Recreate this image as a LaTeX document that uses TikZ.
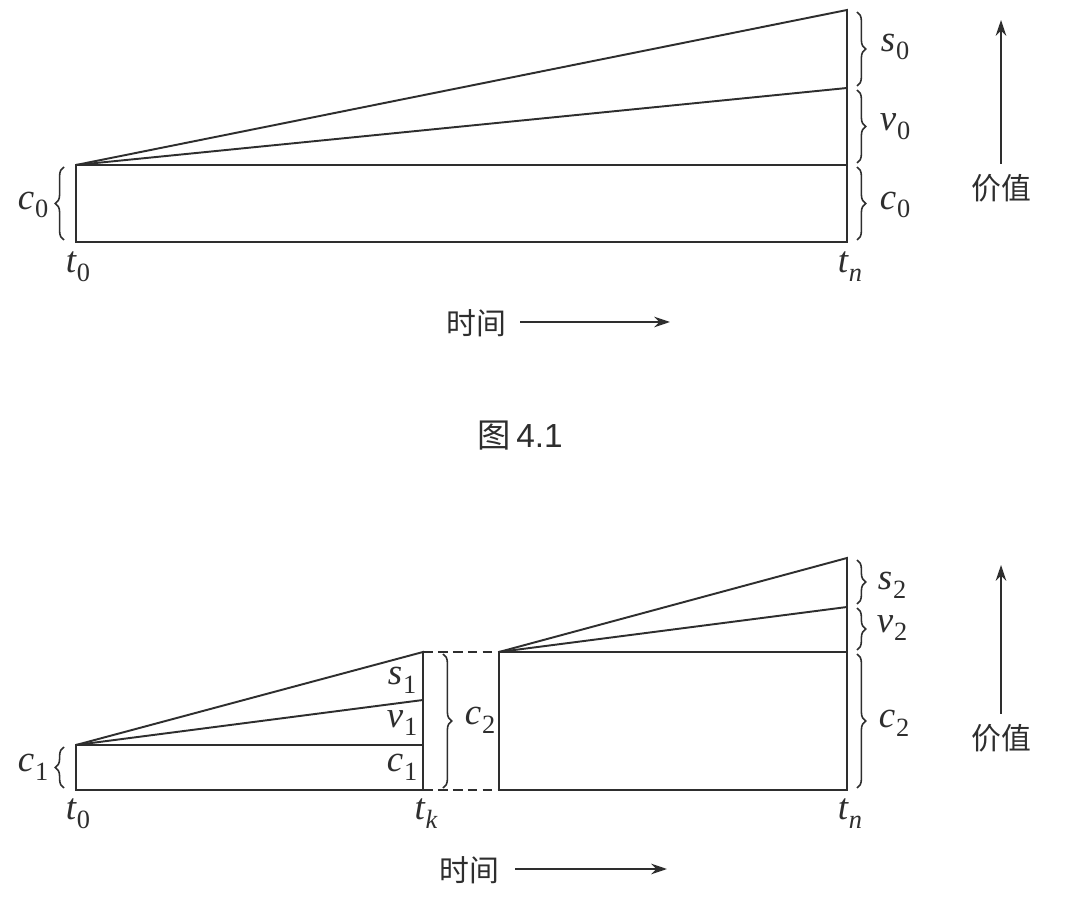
\documentclass[tikz,border=0pt]{standalone}
\usepackage{fontspec}
\setmainfont{Liberation Serif}
\newfontfamily\cjk{Noto Sans CJK SC}
\usetikzlibrary{arrows.meta,decorations.pathreplacing}
\definecolor{ink}{HTML}{2E2E2E}
\newcommand\lab[2]{{\itshape #1}\kern0.5pt\raisebox{-0.24em}{\fontsize{15}{17}\selectfont #2}}
\begin{document}
\begin{tikzpicture}[x=0.02cm,y=-0.02cm,
  ln/.style={draw=ink,line width=1.1pt,line join=miter},
  dsh/.style={draw=ink,line width=1.1pt,dash pattern=on 5.5pt off 3pt},
  br/.style={draw=ink,line width=0.9pt,decorate,decoration={brace,amplitude=5pt}},
  arr/.style={draw=ink,line width=1.1pt,-{Stealth[length=9pt,width=6pt]}},
  lbl/.style={text=ink,font=\fontsize{21}{24}\selectfont,inner sep=0pt},
  zh/.style={text=ink,font=\cjk\fontsize{17}{20}\selectfont,inner sep=0pt},
  figcap/.style={text=ink,font=\cjk\fontsize{19}{22}\selectfont,inner sep=0pt}]
\useasboundingbox (0,0) rectangle (1066,898);
\fill[white] (0,0) rectangle (1066,898);
% ---------- Figure 4.1 ----------
\coordinate (A0) at (76,165);
\coordinate (B0) at (76,242);
\coordinate (C0) at (847,242);
\coordinate (D0) at (847,165);
\coordinate (V0) at (847,88);
\coordinate (S0) at (847,10);
\draw[ln] (A0) -- (B0) -- (C0) -- (S0) -- cycle;
\draw[ln] (A0) -- (V0);
\draw[ln] (A0) -- (D0);
\draw[br] (857,12) -- (857,86);
\draw[br] (857,90) -- (857,163);
\draw[br] (857,167) -- (857,240);
\draw[br] (64,240) -- (64,167);
\node[lbl] (s0) at (895,47) {\lab{s}{0}};
\node[lbl] (v0) at (895,127) {\lab{v}{0}};
\node[lbl] (c0r) at (895,205) {\lab{c}{0}};
\node[lbl] (c0l) at (33,205) {\lab{c}{0}};
\node[lbl] (t0a) at (78,267) {\lab{t}{0}};
\node[lbl] (tna) at (850,267) {\lab{t}{\itshape n}};
\node[zh] (val1) at (1001,188) {价值};
\coordinate (val1top) at (1001,20);
\draw[arr] (1001,164) -- (val1top);
\node[zh] (time1) at (476,323) {时间};
\coordinate (time1end) at (670,322);
\draw[arr] (520,322) -- (time1end);
\node[figcap] (fig) at (520,436) {图\,{\fontspec{Liberation Sans}4.1}};
% ---------- Figure 4.2 ----------
\coordinate (A1) at (76,745);
\coordinate (B1) at (76,790);
\coordinate (K1) at (423,790);
\coordinate (S1) at (423,652);
\coordinate (V1) at (423,700);
\coordinate (C1) at (423,745);
\draw[ln] (A1) -- (B1) -- (K1) -- (S1) -- cycle;
\draw[ln] (A1) -- (V1);
\draw[ln] (A1) -- (C1);
\coordinate (A2) at (499,652);
\coordinate (B2) at (499,790);
\coordinate (C2) at (847,790);
\coordinate (V2) at (847,607);
\coordinate (S2) at (847,558);
\coordinate (D2) at (847,652);
\draw[ln] (A2) -- (B2) -- (C2) -- (S2) -- cycle;
\draw[ln] (A2) -- (V2);
\draw[ln] (A2) -- (D2);
\draw[dsh] (S1) -- (A2);
\draw[dsh] (K1) -- (B2);
\draw[br] (443,654) -- (443,788);
\draw[br] (857,560) -- (857,604);
\draw[br] (857,608) -- (857,650);
\draw[br] (857,654) -- (857,788);
\draw[br] (64,788) -- (64,747);
\node[lbl] (s1) at (402,680) {\lab{s}{1}};
\node[lbl] (v1) at (402,723) {\lab{v}{1}};
\node[lbl] (c1i) at (402,767) {\lab{c}{1}};
\node[lbl] (c2m) at (480,720) {\lab{c}{2}};
\node[lbl] (c1l) at (33,767) {\lab{c}{1}};
\node[lbl] (s2) at (892,585) {\lab{s}{2}};
\node[lbl] (v2) at (892,628) {\lab{v}{2}};
\node[lbl] (c2r) at (894,723) {\lab{c}{2}};
\node[lbl] (t0b) at (78,814) {\lab{t}{0}};
\node[lbl] (tkb) at (426,814) {\lab{t}{\itshape k}};
\node[lbl] (tnb) at (850,814) {\lab{t}{\itshape n}};
\node[zh] (val2) at (1001,738) {价值};
\coordinate (val2top) at (1001,565);
\draw[arr] (1001,714) -- (val2top);
\node[zh] (time2) at (469,870) {时间};
\coordinate (time2end) at (667,869);
\draw[arr] (515,869) -- (time2end);
\end{tikzpicture}
\end{document}
